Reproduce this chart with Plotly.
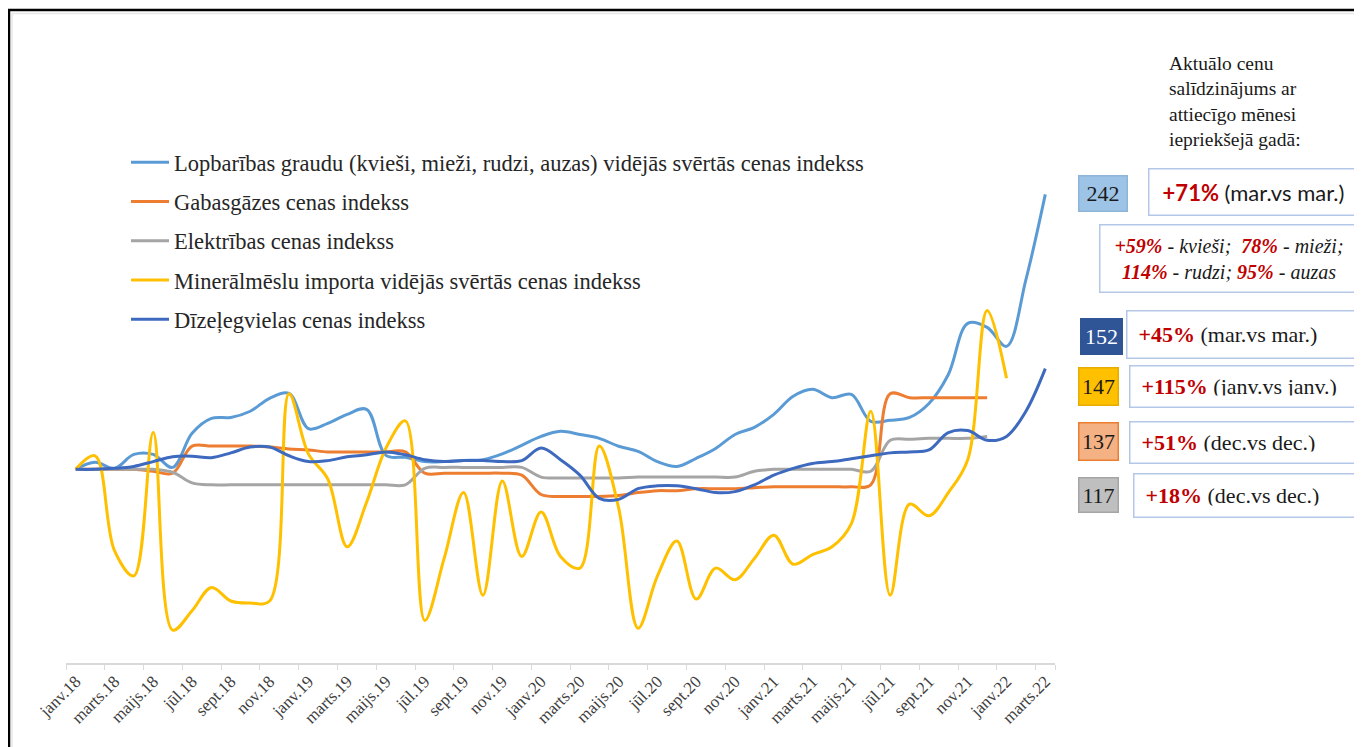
import plotly.graph_objects as go

# month labels (janv.18 .. marts.22)
months = []
for yy in ["18", "19", "20", "21", "22"]:
    for m in ["janv.", "febr.", "marts.", "apr.", "maijs.", "jūn.", "jūl.", "aug.", "sept.", "okt.", "nov.", "dec."]:
        months.append(m + yy)
months = months[:51]

grain = [100, 103.6, 100.5, 107.7, 107.7, 101, 118.6, 126.3, 126.8, 130, 136.7, 139.2,
         121, 123.7, 128.4, 131, 107.2, 106.2, 104, 104, 104.6, 105, 108, 112.4,
         117, 119.6, 118, 116, 111.9, 109.3, 104, 101.5, 105.7, 110.8, 118, 121.7,
         128.4, 137.7, 141.3, 137, 138.7, 124.8, 125.3, 126.8, 134, 149, 175.4, 173.3,
         163.5, 198, 242]
gas = [100, 100, 100, 100, 99, 98, 112, 112, 112, 112, 111.5, 110.5,
       110, 109, 109, 109, 109, 109, 98, 98, 98, 98, 98, 97,
       87, 86, 86, 86, 86.5, 88, 89, 89, 90, 90, 90, 90.5,
       91, 91, 91, 91, 91, 92, 139, 137, 137, 137, 137, 137]
electricity = [100, 100, 100, 100, 100, 98.5, 93, 92, 92, 92, 92, 92,
               92, 92, 92, 92, 92, 92, 100.5, 101, 101, 101, 101, 101,
               96, 95.5, 95.5, 95.5, 95.5, 96, 96, 96, 96, 96, 96, 99,
               100, 100, 100, 100, 100, 99, 115, 115.5, 116, 116, 116, 117]
fertilizer = [100, 107, 58, 45, 119, 17, 27, 39, 32, 31, 32, 139,
              108, 95, 60, 83, 111, 125, 22, 54, 88, 35, 94, 55,
              78, 55, 49, 112, 80, 18, 45, 63, 33, 49, 43, 54,
              66, 51, 56, 60, 72, 130, 35, 82, 76, 88, 105, 182,
              147]
diesel = [100, 100, 100.5, 101.5, 104, 106.5, 106.8, 106, 108.5, 111.5, 111.5, 107,
          104, 104.5, 106.5, 107.5, 109, 107.5, 105, 104, 104.5, 104.5, 104, 104.5,
          111, 105, 97, 85, 84.5, 90, 91.5, 91.5, 90, 88, 88.5, 92,
          97, 100.5, 103, 104, 105.5, 107, 108.5, 109, 110, 119, 120, 115,
          117, 130, 152]

names = ["Lopbarības graudu (kvieši, mieži, rudzi, auzas) vidējās svērtās cenas indekss",
         "Gabasgāzes cenas indekss",
         "Elektrības cenas indekss",
         "Minerālmēslu importa vidējās svērtās cenas indekss",
         "Dīzeļegvielas cenas indekss"]
series = [grain, gas, electricity, fertilizer, diesel]
colors = ["#5b9bd5", "#ed7d31", "#a5a5a5", "#ffc000", "#3d69bf"]

latest = ["242", "152", "147", "137", "117"]
changes = ["+71%", "+45%", "+115%", "+51%", "+18%"]
periods = ["(mar.vs mar.)", "(mar.vs mar.)", "(janv.vs janv.)", "(dec.vs dec.)", "(dec.vs dec.)"]

SERIF = "Liberation Serif, Times New Roman, serif"
RED = "#c00000"

# page offset (body margin) is 8px; plot area in page pixels: x 66..1055, y 82..663
def px_x(p):
    return (p - 66) / 989.0

def px_y(p):
    return (663 - p) / 581.0

fig = go.Figure()
for i, (nm, vals, c) in enumerate(zip(names, series, colors)):
    fig.add_trace(go.Scatter(
        x=months[:len(vals)], y=vals, name=nm, mode="lines",
        line=dict(color=c, width=3, shape="spline", smoothing=1),
        legendgroup="g%d" % i,
    ))

annotations = []
annotations.append(dict(
    x=px_x(1167), y=px_y(51), xref="paper", yref="paper", xanchor="left", yanchor="top",
    text="Aktuālo cenu<br>salīdzinājums ar<br>attiecīgo mēnesi<br>iepriekšejā gadā:",
    align="left", showarrow=False, font=dict(family=SERIF, size=19.5, color="#1a1a1a"),
))

def box(x0, x1, y0, y1, text, bg="white", border="#b4c7e7", font=None, align="center", pad=0):
    annotations.append(dict(
        x=px_x((x0 + x1) / 2), y=px_y((y0 + y1) / 2), xref="paper", yref="paper",
        xanchor="center", yanchor="middle", width=x1 - x0 - 2 - 2 * pad, height=y1 - y0 - 2 - 2 * pad,
        text=text, showarrow=False, bgcolor=bg, bordercolor=border, borderwidth=1.5,
        borderpad=pad, align=align, font=font or dict(family=SERIF, size=20, color="#1a1a1a"),
    ))

num_boxes = [(1078, 1127, 176, 212, "#9dc3e6", "#8fb4d9", "#1a1a1a"),
             (1080, 1122, 318, 354, "#2f5597", "#2f5597", "white"),
             (1078, 1118, 367, 405, "#ffc000", "#e6ad00", "#1a1a1a"),
             (1078, 1118, 422, 460, "#f4b183", "#ed7d31", "#1a1a1a"),
             (1078, 1118, 477, 512, "#bfbfbf", "#a5a5a5", "#1a1a1a")]
txt_boxes = [(1148, 1358, 168, 215),
             (1126, 1366, 310, 358),
             (1129, 1366, 365, 407),
             (1129, 1366, 421, 463),
             (1133, 1366, 473, 517)]

for k in range(5):
    x0, x1, y0, y1, bg, bc, fc = num_boxes[k]
    box(x0, x1, y0, y1, latest[k], bg=bg, border=bc,
        font=dict(family=SERIF, size=22, color=fc))
    tx0, tx1, ty0, ty1 = txt_boxes[k]
    label = "<b><span style='color:%s'>%s</span></b> %s" % (RED, changes[k], periods[k])
    if k == 0:
        box(tx0, tx1, ty0, ty1, label, font=dict(family="Lato", size=22, color="#1a1a1a"))
    else:
        box(tx0, tx1, ty0, ty1, label, font=dict(family=SERIF, size=22, color="#1a1a1a"),
            align="left", pad=11)

grain_detail = ("<b><i><span style='color:%s'>+59%%</span></i></b><i> - kvieši;  </i>"
                "<b><i><span style='color:%s'>78%%</span></i></b><i> - mieži;</i><br>"
                "<b><i><span style='color:%s'>114%%</span></i></b><i> - rudzi; </i>"
                "<b><i><span style='color:%s'>95%%</span></i></b><i> - auzas</i>") % (RED, RED, RED, RED)
box(1099, 1358, 224, 292, grain_detail, font=dict(family=SERIF, size=20, color="#1a1a1a"))

shapes = [
    dict(type="rect", xref="paper", yref="paper", x0=px_x(9), x1=px_x(1375),
         y0=px_y(10), y1=px_y(760), line=dict(color="black", width=2.5)),
    dict(type="rect", xref="paper", yref="paper", x0=px_x(12), x1=px_x(1375),
         y0=px_y(13.5), y1=px_y(760), line=dict(color="#e6e6e6", width=1.5)),
]

fig.update_layout(
    width=1354, height=739,
    margin=dict(l=58, r=307, t=74, b=84, autoexpand=False),
    paper_bgcolor="white", plot_bgcolor="white",
    showlegend=True,
    legend=dict(x=px_x(126), y=px_y(141), xanchor="left", yanchor="top",
                font=dict(family=SERIF, size=22.5, color="#262626"),
                bgcolor="rgba(0,0,0,0)", tracegroupgap=7, traceorder="grouped",
                itemwidth=38),
    xaxis=dict(type="category", range=[-0.5, 50.5], categoryorder="array", categoryarray=months,
               tickmode="array", tickvals=months[::2], ticktext=months[::2],
               tickangle=-45, ticks="outside", tickson="boundaries", ticklen=5,
               tickcolor="#d9d9d9", showline=True, linecolor="#d9d9d9", linewidth=1.5,
               showgrid=False, zeroline=False,
               tickfont=dict(family=SERIF, size=17, color="#404040")),
    yaxis=dict(range=[0, 300], visible=False, showgrid=False),
    annotations=annotations,
    shapes=shapes,
)

fig.write_html("out.html")
